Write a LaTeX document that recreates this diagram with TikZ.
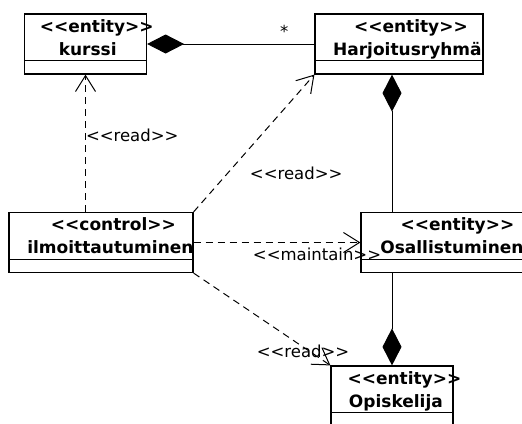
\documentclass[tikz,border=0pt]{standalone}
\usepackage{fontspec}
\setmainfont{DejaVu Sans}
\usetikzlibrary{arrows.meta,positioning,calc}
\newcommand\stt[1]{<\kern0pt<#1>\kern0pt>}
\tikzset{
  classbox/.style={rectangle, draw, line width=1.2pt, inner sep=0pt, minimum height=60pt},
  stereo/.style={anchor=base, inner sep=0pt, font=\fontsize{17}{20}\selectfont\bfseries},
  lbl/.style={inner sep=0pt, font=\fontsize{16.5}{19}\selectfont},
  dep/.style={dash pattern=on 7pt off 5pt, line width=1pt, -{Straight Barb[length=16pt,width=20pt]}},
  comp/.style={line width=1pt, {Diamond[length=37pt,width=19pt]}-},
}

\begin{document}
\begin{tikzpicture}[x=1pt, y=-1pt]
        \useasboundingbox (0,0) rectangle (522,423);
        % classes
        \node[classbox, minimum width=122pt](kurssi) at (85.5,44){};
        \node[classbox, minimum width=168pt](harj) at (399,44){};
        \node[classbox, minimum width=184pt](ilmo) at (101,242.5){};
        \node[classbox, minimum width=170pt](osal) at (446,242.5){};
        \node[classbox, minimum width=122pt](opis) at (392,396){};
        \foreach \c in {kurssi,harj,ilmo,osal,opis}
            \draw[line width=1.2pt] ($(\c.south west)+(0,-14)$) -- ($(\c.south east)+(0,-14)$);

        \node[stereo](kurssi-st) at ($(kurssi.north west)+(72.8,19)$){\stt{entity}};
        \node[stereo](kurssi-nm) at ($(kurssi.north west)+(63.8,42)$){kurssi};
        \node[stereo](harj-st) at ($(harj.north west)+(96.5,19)$){\stt{entity}};
        \node[stereo](harj-nm) at ($(harj.north west)+(93,42)$){Harjoitusryhmä};
        \node[stereo](ilmo-st) at ($(ilmo.north west)+(105,19)$){\stt{control}};
        \node[stereo](ilmo-nm) at ($(ilmo.north west)+(102,42)$){ilmoittautuminen};
        \node[stereo](osal-st) at ($(osal.north west)+(97,19)$){\stt{entity}};
        \node[stereo](osal-nm) at ($(osal.north west)+(91.5,42)$){Osallistuminen};
        \node[stereo](opis-st) at ($(opis.north west)+(74,19)$){\stt{entity}};
        \node[stereo](opis-nm) at ($(opis.north west)+(65.5,42)$){Opiskelija};

        % compositions
        \draw[comp](kurssi)--(harj) node[lbl, pos=0.82, above=6.5pt]{*};
        \draw[comp](opis.north |- harj.south)--(opis.north |- osal.north);
        \draw[comp](opis.north)--(opis.north |- osal.south);

        % dependencies
        \draw[dep](kurssi.south |- ilmo.north)--(kurssi.south) node[lbl, pos=0.56, right]{\stt{read}};
        \draw[dep](ilmo.north east)--(harj.south west) node[lbl, pos=0.28, right=22pt]{\stt{read}};
        \draw[dep](ilmo)--(osal) node[lbl, pos=0.74, below=5pt]{\stt{maintain}};
        \draw[dep](ilmo.south east)--(opis.north west) node[lbl, pos=0.8, yshift=-4pt]{\stt{read}};
    \end{tikzpicture}
\end{document}
